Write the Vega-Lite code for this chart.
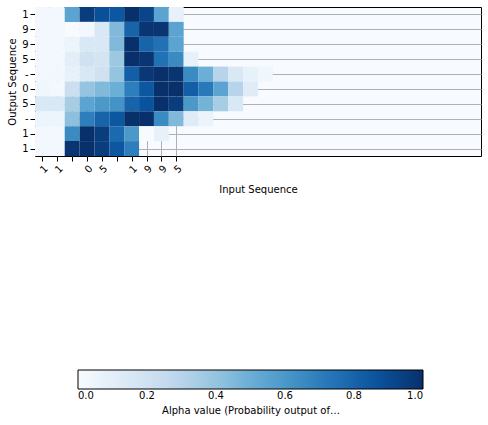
{
  "$schema": "https://vega.github.io/schema/vega-lite/v6.json",
  "width": 446,
  "height": 149,
  "autosize": "none",
  "padding": {"left": 35, "top": 7, "right": 7, "bottom": 269},
  "background": "white",
  "view": {"stroke": "black", "strokeWidth": 1, "fill": "#f7fbff"},
  "config": {"font": "DejaVu Sans"},
  "data": {"values": [
    {"o":0,"i":0,"v":0.02},{"o":0,"i":1,"v":0.02},{"o":0,"i":2,"v":0.55},{"o":0,"i":3,"v":0.95},{"o":0,"i":4,"v":0.88},{"o":0,"i":5,"v":0.85},{"o":0,"i":6,"v":1.0},{"o":0,"i":7,"v":0.92},{"o":0,"i":8,"v":0.55},{"o":0,"i":9,"v":0.08},
    {"o":1,"i":0,"v":0.02},{"o":1,"i":1,"v":0.02},{"o":1,"i":2,"v":0.0},{"o":1,"i":3,"v":0.02},{"o":1,"i":4,"v":0.15},{"o":1,"i":5,"v":0.45},{"o":1,"i":6,"v":0.8},{"o":1,"i":7,"v":0.98},{"o":1,"i":8,"v":0.98},{"o":1,"i":9,"v":0.55},
    {"o":2,"i":0,"v":0.02},{"o":2,"i":1,"v":0.02},{"o":2,"i":2,"v":0.05},{"o":2,"i":3,"v":0.15},{"o":2,"i":4,"v":0.15},{"o":2,"i":5,"v":0.45},{"o":2,"i":6,"v":1.0},{"o":2,"i":7,"v":0.8},{"o":2,"i":8,"v":0.75},{"o":2,"i":9,"v":0.55},
    {"o":3,"i":0,"v":0.02},{"o":3,"i":1,"v":0.02},{"o":3,"i":2,"v":0.1},{"o":3,"i":3,"v":0.2},{"o":3,"i":4,"v":0.18},{"o":3,"i":5,"v":0.38},{"o":3,"i":6,"v":1.0},{"o":3,"i":7,"v":0.98},{"o":3,"i":8,"v":0.75},{"o":3,"i":9,"v":0.65},{"o":3,"i":10,"v":0.08},
    {"o":4,"i":0,"v":0.02},{"o":4,"i":1,"v":0.03},{"o":4,"i":2,"v":0.08},{"o":4,"i":3,"v":0.15},{"o":4,"i":4,"v":0.2},{"o":4,"i":5,"v":0.4},{"o":4,"i":6,"v":0.82},{"o":4,"i":7,"v":0.97},{"o":4,"i":8,"v":1.0},{"o":4,"i":9,"v":0.98},{"o":4,"i":10,"v":0.65},{"o":4,"i":11,"v":0.5},{"o":4,"i":12,"v":0.3},{"o":4,"i":13,"v":0.15},{"o":4,"i":14,"v":0.08},{"o":4,"i":15,"v":0.04},
    {"o":5,"i":0,"v":0.04},{"o":5,"i":1,"v":0.02},{"o":5,"i":2,"v":0.22},{"o":5,"i":3,"v":0.4},{"o":5,"i":4,"v":0.45},{"o":5,"i":5,"v":0.5},{"o":5,"i":6,"v":0.7},{"o":5,"i":7,"v":0.85},{"o":5,"i":8,"v":1.0},{"o":5,"i":9,"v":1.0},{"o":5,"i":10,"v":0.82},{"o":5,"i":11,"v":0.72},{"o":5,"i":12,"v":0.55},{"o":5,"i":13,"v":0.3},{"o":5,"i":14,"v":0.12},
    {"o":6,"i":0,"v":0.15},{"o":6,"i":1,"v":0.15},{"o":6,"i":2,"v":0.35},{"o":6,"i":3,"v":0.55},{"o":6,"i":4,"v":0.6},{"o":6,"i":5,"v":0.62},{"o":6,"i":6,"v":0.8},{"o":6,"i":7,"v":0.87},{"o":6,"i":8,"v":1.0},{"o":6,"i":9,"v":0.95},{"o":6,"i":10,"v":0.6},{"o":6,"i":11,"v":0.48},{"o":6,"i":12,"v":0.35},{"o":6,"i":13,"v":0.15},
    {"o":7,"i":0,"v":0.05},{"o":7,"i":1,"v":0.05},{"o":7,"i":2,"v":0.42},{"o":7,"i":3,"v":0.7},{"o":7,"i":4,"v":0.8},{"o":7,"i":5,"v":0.85},{"o":7,"i":6,"v":1.0},{"o":7,"i":7,"v":1.0},{"o":7,"i":8,"v":0.65},{"o":7,"i":9,"v":0.45},{"o":7,"i":10,"v":0.12},{"o":7,"i":11,"v":0.06},
    {"o":8,"i":0,"v":0.02},{"o":8,"i":1,"v":0.02},{"o":8,"i":2,"v":0.65},{"o":8,"i":3,"v":1.0},{"o":8,"i":4,"v":0.95},{"o":8,"i":5,"v":0.78},{"o":8,"i":6,"v":0.6},{"o":8,"i":7,"v":0.0},{"o":8,"i":8,"v":0.08},
    {"o":9,"i":0,"v":0.02},{"o":9,"i":1,"v":0.02},{"o":9,"i":2,"v":0.98},{"o":9,"i":3,"v":1.0},{"o":9,"i":4,"v":0.95},{"o":9,"i":5,"v":0.85},{"o":9,"i":6,"v":0.7}
  ]},
  "transform": [
    {"calculate": "datum.i - 0.5", "as": "x0"},
    {"calculate": "datum.i + 0.5", "as": "x1"},
    {"calculate": "datum.o - 0.5", "as": "y0"},
    {"calculate": "datum.o + 0.5", "as": "y1"}
  ],
  "layer": [
    {
      "mark": {"type": "rect", "strokeWidth": 0},
      "encoding": {
        "x": {"field": "x0", "type": "quantitative",
          "scale": {"domain": [-0.5, 29.5], "nice": false, "zero": false},
          "axis": {"values": [0,1,2,3,4,5,6,7,8,9], "title": "Input Sequence", "titleFontWeight": "normal", "titleFontSize": 10, "titlePadding": 10,
            "labelExpr": "['1','1',' ','0','5',' ','1','9','9','5'][datum.value]", "labelAngle": -45, "labelAlign": "right", "labelBaseline": "top", "labelFontSize": 10, "labelColor": "black",
            "grid": true, "gridColor": "#b0b0b0", "gridOpacity": 1, "tickColor": "black", "domain": false}},
        "x2": {"field": "x1"},
        "y": {"field": "y0", "type": "quantitative",
          "scale": {"domain": [-0.5, 9.5], "nice": false, "zero": false, "reverse": true},
          "axis": {"values": [0,1,2,3,4,5,6,7,8,9], "title": "Output Sequence", "titleFontWeight": "normal", "titleFontSize": 10, "titlePadding": 4,
            "labelExpr": "['1','9','9','5','-','0','5','-','1','1'][datum.value]", "labelFontSize": 10, "labelColor": "black",
            "grid": true, "gridColor": "#b0b0b0", "gridOpacity": 1, "tickColor": "black", "domain": false}},
        "y2": {"field": "y1"},
        "color": {"field": "v", "type": "quantitative",
          "scale": {"domain": [0, 0.125, 0.25, 0.375, 0.5, 0.625, 0.75, 0.875, 1],
            "range": ["#f7fbff","#deebf7","#c6dbef","#9ecae1","#6baed6","#4292c6","#2171b5","#08519c","#08306b"]},
          "legend": {"orient": "none", "direction": "horizontal", "legendX": 43, "legendY": 363,
            "gradientLength": 345, "gradientThickness": 19, "gradientStrokeColor": "black", "gradientStrokeWidth": 1,
            "values": [0, 0.2, 0.4, 0.6, 0.8, 1.0], "format": ".1f", "labelFontSize": 10, "labelColor": "black",
            "title": "Alpha value (Probability output of the \"softmax\")", "titleOrient": "bottom", "titleAnchor": "middle",
            "titleFontWeight": "normal", "titleFontSize": 10, "titleColor": "black"}}
      }
    }
  ]
}
